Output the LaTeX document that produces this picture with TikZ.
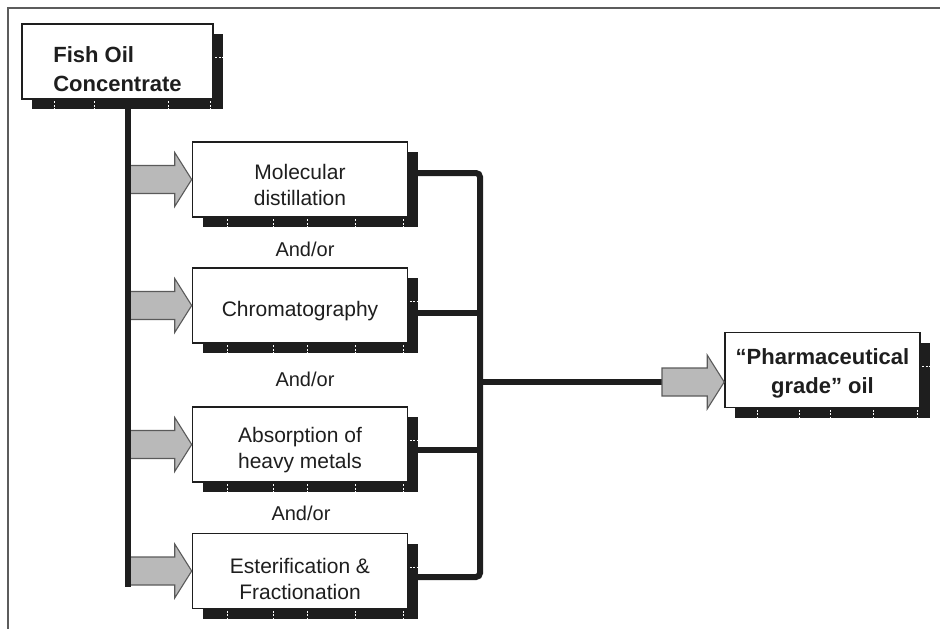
\documentclass[tikz,border=0pt]{standalone}
\usepackage{fontspec}
\setmainfont{Liberation Sans}
\usetikzlibrary{positioning,calc,shadows}
\definecolor{ink}      {HTML}{1E1E1E}
\definecolor{arrowgray}{HTML}{B9B9B9}
\definecolor{arrowedge}{HTML}{5A5A5A}
\definecolor{framegray}{HTML}{5C5C5C}
\tikzset{
  >=stealth,
  % --- nodes
  procbox/.style = {draw=ink, line width=1.6pt, fill=white, align=center,
                    inner sep=0pt, minimum width=215pt, minimum height=75pt,
                    text=ink, font=\fontsize{21}{26}\selectfont,
                    drop shadow={shadow xshift=10pt, shadow yshift=-10pt,
                                 fill=ink, opacity=1}},
  endbox/.style  = {procbox, font=\fontsize{22}{29}\selectfont\bfseries},
  andor/.style   = {text=ink, font=\fontsize{20}{24}\selectfont},
  % --- edges
  bus/.style     = {draw=ink, line width=6pt},
  fatarr/.style  = {fill=arrowgray, draw=arrowedge, line width=1.1pt, line join=miter},
  tickline/.style= {draw=white, line width=0.8pt, dash pattern=on 2pt off 1.5pt},
}
% strut that pushes a node's text down
\newcommand\lift[1]{\rule{0pt}{#1pt}}
% white ticks on the shadow bands
\newcommand\shadowticks[1]{%
  \foreach \f in {0.12,0.33,0.49,0.71,0.93}
    \draw[tickline] ($(#1.south west)!\f!(#1.south east)+(10,1.5)$) -- ++(0,8);
  \draw[tickline] ($(#1.north east)!0.45!(#1.south east)+(1.5,0)$) -- ++(8,0);
}
% broad grey arrow: #1 start, #2 tip
\newcommand\fatarrow[2]{%
  \path (#1) coordinate (fa-s) (#2) coordinate (fa-t);
  \filldraw[fatarr] ($(fa-s)+(0,-14)$) -- ($(fa-t)+(-17,-14)$) -- ($(fa-t)+(-17,-27)$)
    -- (fa-t) -- ($(fa-t)+(-17,27)$) -- ($(fa-t)+(-17,14)$) -- ($(fa-s)+(0,14)$) -- cycle;
}

\begin{document}
\begin{tikzpicture}[x=1pt, y=-1pt]
  \useasboundingbox (0,0) rectangle (940,629);
  \draw[framegray, line width=1.5pt] (8,629) -- (8,8) -- (940,8);

  \node[endbox, minimum width=191pt, align=left] (fish) at (117.5,61.5)
    {\lift{32}Fish Oil\\Concentrate};

  \node[procbox] (m1) at (300,179.5) {\lift{26}Molecular\\distillation};
  \node[procbox] (m2) at (300,305.5) {\lift{27}Chromatography};
  \node[procbox] (m3) at (300,444.5) {\lift{26}Absorption of\\heavy metals};
  \node[procbox] (m4) at (300,571)   {\lift{32}Esterification \&\\Fractionation};

  \node[endbox, minimum width=195pt] (ph) at (822.5,370)
    {\lift{23}``Pharmaceutical\\grade'' oil};

  \node[andor] (a1) at (305,249) {And/or};
  \node[andor] (a2) at (305,379) {And/or};
  \node[andor] (a3) at (301,513) {And/or};

  \foreach \n in {fish,m1,m2,m3,m4,ph}
    \shadowticks{\n};

  % trunk and feed arrows
  \coordinate (trunkend) at (128,587);
  \foreach \n in {m1,m2,m3,m4}
    \fatarrow{trunkend |- \n.west}{\n.west};
  \draw[bus] (fish.south -| trunkend) -- (trunkend);

  % collector
  \coordinate (b1) at (480,173);
  \coordinate (b2) at (480,313);
  \coordinate (b3) at (480,450);
  \coordinate (b4) at (480,577);
  \coordinate (bo) at (480,382);
  \draw[bus, rounded corners=4pt] (m1.east |- b1) -- (b1) -- (b4) -- (m4.east |- b4);
  \draw[bus] (m2.east |- b2) -- (b2);
  \draw[bus] (m3.east |- b3) -- (b3);
  \coordinate (ao) at (662,382);
  \draw[bus] (bo) -- (ao);
  \fatarrow{ao}{ph.west |- bo};
\end{tikzpicture}
\end{document}
